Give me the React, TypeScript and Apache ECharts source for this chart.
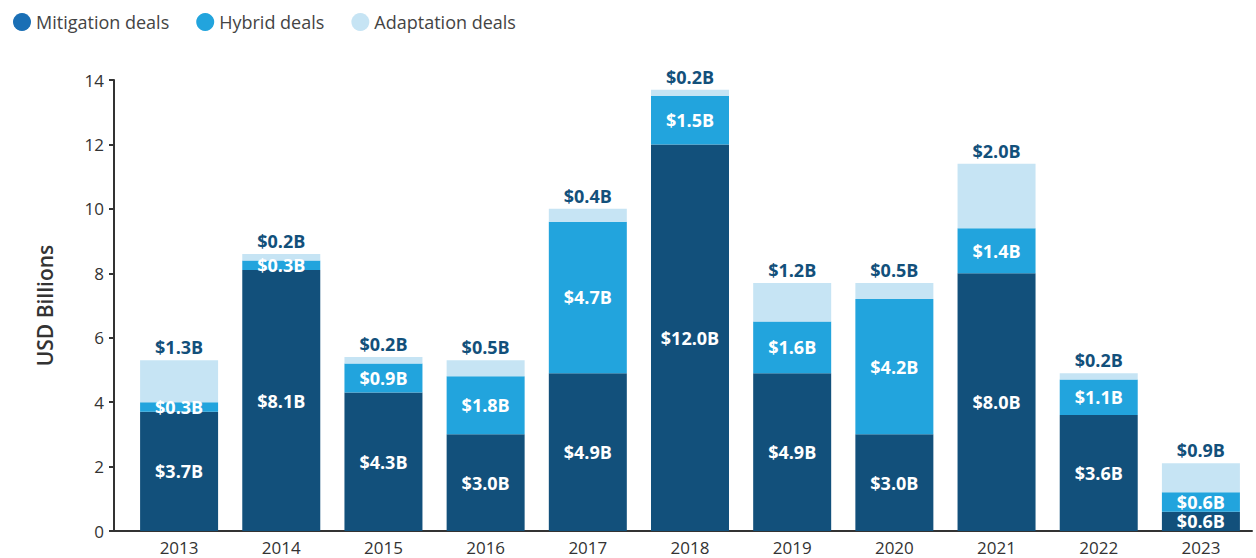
import React, { useEffect, useRef } from "react";
import * as echarts from "echarts";

const years = ["2013", "2014", "2015", "2016", "2017", "2018", "2019", "2020", "2021", "2022", "2023"];
const mitigation = [3.7, 8.1, 4.3, 3.0, 4.9, 12.0, 4.9, 3.0, 8.0, 3.6, 0.6];
const hybrid = [0.3, 0.3, 0.9, 1.8, 4.7, 1.5, 1.6, 4.2, 1.4, 1.1, 0.6];
const adaptation = [1.3, 0.2, 0.2, 0.5, 0.4, 0.2, 1.2, 0.5, 2.0, 0.2, 0.9];
const yTicks = [0, 2, 4, 6, 8, 10, 12, 14];

const FONT = "'Open Sans', 'Noto Sans', sans-serif";
const fmt = (p: any) => "$" + Number(p.value).toFixed(1) + "B";

export default function App() {
  const ref = useRef<HTMLDivElement>(null);
  useEffect(() => {
    if (!ref.current) return;
    const chart = echarts.init(ref.current, undefined, { renderer: "svg" });
    const labelInside = {
      show: true,
      position: "inside" as const,
      color: "#ffffff",
      fontFamily: FONT,
      fontWeight: "bold" as const,
      fontSize: 18,
      formatter: fmt,
    };
    chart.setOption({
      animation: false,
      textStyle: { fontFamily: FONT },
      legend: {
        left: 8,
        top: 8,
        icon: "circle",
        itemWidth: 18,
        itemHeight: 18,
        itemGap: 27,
        textStyle: { fontFamily: FONT, fontSize: 18, color: "#444" },
        data: [
          { name: "Mitigation deals", itemStyle: { color: "#1a6fb5" } },
          { name: "Hybrid deals", itemStyle: { color: "#22a4dd" } },
          { name: "Adaptation deals", itemStyle: { color: "#c6e4f4" } },
        ],
      },
      grid: { left: 128, right: 4, top: 80, bottom: 27, containLabel: false },
      graphic: [
        {
          type: "line",
          shape: { x1: 114, y1: 531, x2: 129, y2: 531 },
          style: { stroke: "#333", lineWidth: 2 },
        },
      ],
      xAxis: {
        type: "category",
        data: years,
        axisLine: { show: true, lineStyle: { color: "#333", width: 2 } },
        axisTick: { show: false },
        axisLabel: { fontFamily: FONT, fontSize: 17, color: "#333", margin: 8 },
      },
      yAxis: {
        type: "value",
        min: yTicks[0],
        max: yTicks[yTicks.length - 1],
        interval: 2,
        offset: 14,
        name: "USD Billions",
        nameLocation: "middle",
        nameGap: 59,
        nameTextStyle: { fontFamily: FONT, fontSize: 21, fontWeight: 600, color: "#333" },
        splitLine: { show: false },
        axisLine: { show: true, lineStyle: { color: "#333", width: 2 } },
        axisTick: { show: true, length: 5, lineStyle: { color: "#333", width: 2 } },
        axisLabel: { fontFamily: FONT, fontSize: 17, color: "#333", margin: 10 },
      },
      series: [
        {
          name: "Mitigation deals",
          type: "bar",
          stack: "total",
          barWidth: 78,
          data: mitigation,
          itemStyle: { color: "#12507b" },
          label: labelInside,
        },
        {
          name: "Hybrid deals",
          type: "bar",
          stack: "total",
          barWidth: 78,
          data: hybrid,
          itemStyle: { color: "#22a4dd" },
          label: labelInside,
        },
        {
          name: "Adaptation deals",
          type: "bar",
          stack: "total",
          barWidth: 78,
          data: adaptation,
          itemStyle: { color: "#c6e4f4" },
          label: {
            show: true,
            position: "top",
            distance: 4,
            color: "#12507b",
            fontFamily: FONT,
            fontWeight: "bold",
            fontSize: 18,
            formatter: fmt,
          },
        },
      ],
    });
    return () => chart.dispose();
  }, []);
  return (
    <div
      ref={ref}
      style={{ position: "absolute", left: 0, top: 0, width: 1256, height: 558 }}
    />
  );
}
